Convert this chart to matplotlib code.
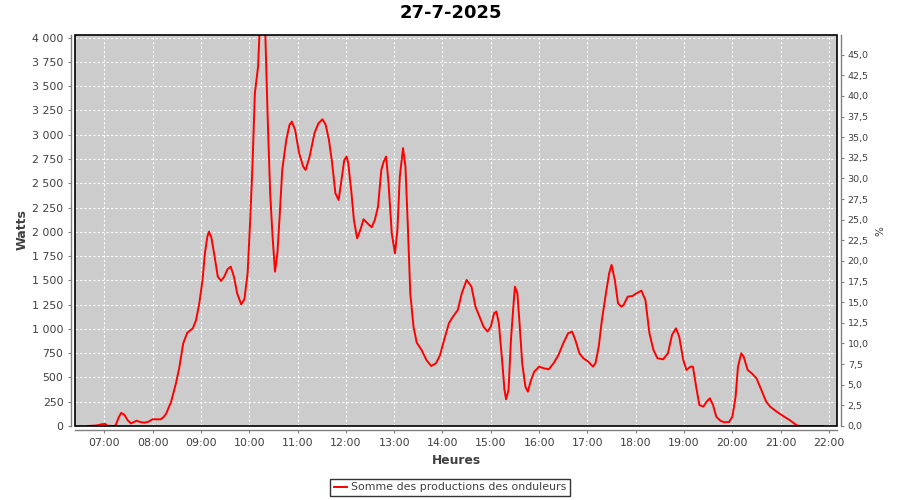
import matplotlib
matplotlib.use("Agg")
import matplotlib.pyplot as plt
from matplotlib.patches import Rectangle
from matplotlib.ticker import FuncFormatter, MultipleLocator

# production readings (heure, watts)
heures = [
    "06:39", "06:50", "06:57", "07:01", "07:04", "07:11", "07:14", "07:18", "07:21", "07:25",
    "07:29", "07:33", "07:38", "07:40", "07:45", "07:50", "07:55", "08:00", "08:10", "08:14",
    "08:17", "08:23", "08:29", "08:33", "08:38", "08:43", "08:50", "08:54", "08:58", "09:02",
    "09:05", "09:08", "09:10", "09:13", "09:17", "09:21", "09:25", "09:29", "09:33", "09:37",
    "09:41", "09:45", "09:50", "09:54", "09:58", "10:01", "10:04", "10:07", "10:11", "10:13",
    "10:16", "10:18", "10:20", "10:21", "10:23", "10:26", "10:29", "10:32", "10:35", "10:38",
    "10:41", "10:46", "10:50", "10:53", "10:57", "11:02", "11:07", "11:10", "11:15", "11:21",
    "11:26", "11:31", "11:35", "11:39", "11:43", "11:47", "11:51", "11:54", "11:58", "12:01",
    "12:03", "12:07", "12:10", "12:14", "12:18", "12:22", "12:26", "12:32", "12:36", "12:40",
    "12:44", "12:47", "12:50", "12:53", "12:57", "13:01", "13:04", "13:07", "13:11", "13:14",
    "13:17", "13:20", "13:24", "13:28", "13:34", "13:40", "13:46", "13:52", "13:57", "14:02",
    "14:08", "14:13", "14:19", "14:24", "14:30", "14:36", "14:41", "14:46", "14:51", "14:56",
    "15:00", "15:04", "15:07", "15:10", "15:14", "15:17", "15:19", "15:22", "15:25", "15:28",
    "15:30", "15:33", "15:36", "15:39", "15:43", "15:46", "15:50", "15:54", "16:00", "16:06",
    "16:12", "16:18", "16:24", "16:30", "16:36", "16:41", "16:45", "16:50", "16:55", "17:01",
    "17:07", "17:10", "17:14", "17:18", "17:23", "17:27", "17:30", "17:34", "17:38", "17:42",
    "17:45", "17:50", "17:56", "18:01", "18:07", "18:12", "18:17", "18:22", "18:27", "18:34",
    "18:40", "18:45", "18:50", "18:54", "18:59", "19:03", "19:08", "19:11", "19:15", "19:19",
    "19:24", "19:28", "19:32", "19:36", "19:40", "19:45", "19:50", "19:56", "20:00", "20:04",
    "20:07", "20:11", "20:14", "20:19", "20:24", "20:30", "20:36", "20:42", "20:47", "20:55",
    "21:03", "21:11", "21:20", "21:24", "21:52",
]
watts = [
    0, 5, 18, 22, 3, 0, 5, 90, 135, 115,
    60, 27, 45, 55, 40, 34, 45, 69, 69, 95,
    130, 250, 440, 594, 850, 960, 1006, 1092, 1264, 1504,
    1779, 1950, 2002, 1940, 1745, 1538, 1494, 1538, 1614, 1641,
    1538, 1367, 1253, 1305, 1573, 2088, 2672, 3427, 3702, 4100,
    4250, 4200, 4030, 3736, 3152, 2397, 1950, 1590, 1779, 2191,
    2637, 2946, 3101, 3135, 3049, 2809, 2672, 2637, 2775, 3015,
    3118, 3159, 3101, 2946, 2706, 2397, 2328, 2500, 2740, 2775,
    2706, 2397, 2122, 1933, 2019, 2129, 2095, 2047, 2122, 2260,
    2637, 2723, 2775, 2500, 1985, 1779, 2019, 2569, 2861, 2672,
    2054, 1367, 1023, 859, 783, 680, 618, 646, 731, 886,
    1058, 1126, 1195, 1367, 1504, 1435, 1229, 1126, 1023, 972,
    1023, 1160, 1178, 1058, 680, 371, 275, 371, 886, 1229,
    1435, 1367, 1023, 646, 405, 354, 474, 560, 611, 594,
    584, 646, 731, 852, 955, 972, 886, 749, 697, 663,
    611, 646, 817, 1092, 1367, 1573, 1659, 1504, 1264, 1229,
    1247, 1332, 1339, 1367, 1394, 1298, 955, 783, 697, 687,
    749, 937, 1006, 920, 680, 577, 611, 611, 405, 216,
    199, 250, 285, 216, 96, 55, 38, 41, 96, 302,
    611, 749, 714, 577, 543, 491, 371, 250, 199, 148,
    103, 62, 7, 0, 0,
]

titre = "27-7-2025"
serie = "Somme des productions des onduleurs"
puissance_crete = 8500  # W -> 100 %

x = [int(h[:2]) + int(h[3:]) / 60 for h in heures]

fig = plt.figure(figsize=(9, 5), dpi=100)
ax = fig.add_axes([75.3 / 900, 1 - 426 / 500, 762 / 900, 391 / 500])
ax.set_facecolor("#cccccc")

ligne, = ax.plot(x, watts, color="#ff0000", lw=1.4, label=serie)

ax.set_xlim(6.4, 22 + 10.3 / 60)
ax.set_ylim(0, 4027)
ax.xaxis.set_major_locator(MultipleLocator(1))
ax.yaxis.set_major_locator(MultipleLocator(250))
ax.xaxis.set_major_formatter(FuncFormatter(lambda v, p: "%02d:00" % round(v)))
ax.yaxis.set_major_formatter(FuncFormatter(lambda v, p: f"{int(v):,}".replace(",", " ")))

ax.set_axisbelow(True)
ax.grid(color="white", linestyle=(0, (2, 2)), linewidth=0.8)

ax2 = ax.twinx()
ax2.set_ylim(0, 4027 / puissance_crete * 100)
ax2.yaxis.set_major_locator(MultipleLocator(2.5))
ax2.yaxis.set_major_formatter(FuncFormatter(lambda v, p: f"{v:.1f}".replace(".", ",")))

for a in (ax, ax2):
    for s in a.spines.values():
        s.set_visible(False)
ax.spines["left"].set_visible(True)
ax.spines["bottom"].set_visible(True)
ax2.spines["right"].set_visible(True)
for s in (ax.spines["left"], ax.spines["bottom"], ax2.spines["right"]):
    s.set_position(("outward", 3))
    s.set_color("#808080")
    s.set_linewidth(1)

ax.tick_params(axis="both", direction="out", length=2.5, width=0.8, color="#808080",
               labelcolor="#404040", labelsize=7.9, pad=3)
ax2.tick_params(axis="y", direction="out", length=2.5, width=0.8, color="#808080",
                labelcolor="#404040", labelsize=6.8, pad=2)

# black plot outline
ax.add_patch(Rectangle((0, 0), 1, 1, transform=ax.transAxes, fill=False,
                       edgecolor="black", lw=1.2, clip_on=False, zorder=5))

fig.text(0.501, 1 - 13.5 / 500, titre, ha="center", va="center", fontsize=13,
         fontweight="bold", color="black")
fig.text(22 / 900, 1 - 230 / 500, "Watts", ha="center", va="center", rotation=90,
         fontsize=9, fontweight="bold", color="#404040")
fig.text(880 / 900, 1 - 231 / 500, "%", ha="center", va="center", rotation=90,
         fontsize=7.5, color="#404040")
fig.text(456 / 900, 1 - 460 / 500, "Heures", ha="center", va="center",
         fontsize=8.8, fontweight="bold", color="#404040")

leg = fig.legend(handles=[ligne], loc="center", bbox_to_anchor=(0.5, 1 - 487.5 / 500),
                 fontsize=7.9, frameon=True, fancybox=False, handlelength=1.2,
                 handletextpad=0.3, borderpad=0.35, borderaxespad=0)
leg.get_frame().set_edgecolor("black")
leg.get_frame().set_linewidth(1)
for t in leg.get_texts():
    t.set_color("#404040")

fig.savefig("out.png", dpi=100)
